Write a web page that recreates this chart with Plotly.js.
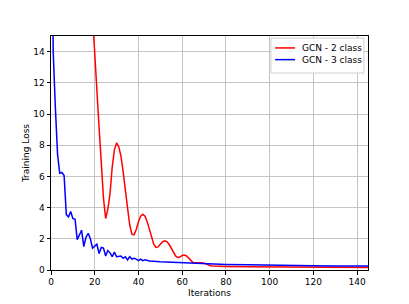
<!DOCTYPE html>
<html>
<head>
<meta charset="utf-8">
<script src="https://cdn.plot.ly/plotly-3.0.1.min.js"></script>
<style>html,body{margin:0;padding:0;background:#fff;}#chart{width:409px;height:304px;}</style>
</head>
<body>
<div id="chart"></div>
<script>
// GCN - 2 class (red)
var redX = [19,20,21,22,23,24,25,26,27,28,29,30,31,32,33,34,35,36,37,38,39,40,41,42,43,44,45,46,47,48,49,50,51,52,53,54,55,56,57,58,59,60,61,62,63,64,65,66,67,68,69,70,71,72,73,74,75,80,90,100,110,120,130,145];
var redY = [16.3,13.6,11.3,9.1,6.9,4.6,3.3,3.9,4.9,6.6,7.7,8.15,7.9,7.3,6.3,5.3,4.0,2.9,2.3,2.25,2.6,3.1,3.45,3.57,3.45,3.1,2.6,2.1,1.65,1.45,1.48,1.65,1.8,1.87,1.82,1.65,1.4,1.1,0.9,0.8,0.83,0.93,0.96,0.9,0.75,0.58,0.48,0.46,0.47,0.48,0.47,0.44,0.38,0.31,0.27,0.26,0.25,0.23,0.21,0.2,0.19,0.18,0.17,0.16];

// GCN - 3 class (blue)
var blueX = [0,1,2,3,4,5,6,7,8,9,10,11,12,13,14,15,16,17,18,19,20,21,22,23,24,25,26,27,28,29,30,31,32,33,34,35,36,37,38,39,40,41,42,43,44,45,50,55,60,65,70,75,80,90,100,110,120,130,145];
var blueY = [35,14.0,10.4,7.4,6.2,6.25,6.05,3.55,3.4,3.75,3.3,3.25,1.95,2.25,2.55,1.5,2.1,2.35,2.0,1.4,1.55,1.65,1.05,1.45,1.4,0.9,1.25,1.1,0.85,1.15,0.85,0.9,0.9,0.75,0.85,0.65,0.85,0.7,0.75,0.7,0.6,0.7,0.6,0.65,0.6,0.58,0.53,0.5,0.46,0.44,0.41,0.38,0.36,0.33,0.3,0.28,0.27,0.26,0.25];

var seriesNames = ['GCN - 2 class', 'GCN - 3 class'];
var seriesColors = ['#ff0000', '#0000ff'];

var xTicks = [0,20,40,60,80,100,120,140];
var yTicks = [0,2,4,6,8,10,12,14];

var font = {family: 'DejaVu Sans', size: 9, color: '#000'};

var traces = [
  {x: redX, y: redY, type: 'scatter', mode: 'lines', name: seriesNames[0], line: {color: seriesColors[0], width: 1.5}},
  {x: blueX, y: blueY, type: 'scatter', mode: 'lines', name: seriesNames[1], line: {color: seriesColors[1], width: 1.5}}
];

var axisCommon = {
  showline: true, mirror: true, linecolor: '#000', linewidth: 1,
  showgrid: true, gridcolor: '#c4c4c4', gridwidth: 1,
  zeroline: false, ticks: 'outside', ticklen: 3.5, tickwidth: 1, tickcolor: '#000',
  tickfont: font
};

// compact matplotlib-style legend (box + line samples + labels in paper coords)
var legRowY = [0.949, 0.899];
var shapes = [
  {type: 'rect', xref: 'paper', yref: 'paper', x0: 0.694, x1: 0.987, y0: 0.842, y1: 0.991,
   fillcolor: 'rgba(255,255,255,0.9)', line: {color: '#d0d0d0', width: 1}, layer: 'above'}
];
var annotations = [];
for (var i = 0; i < seriesNames.length; i++) {
  shapes.push({type: 'line', xref: 'paper', yref: 'paper', x0: 0.707, x1: 0.770, y0: legRowY[i], y1: legRowY[i],
               line: {color: seriesColors[i], width: 1.5}, layer: 'above'});
  annotations.push({xref: 'paper', yref: 'paper', x: 0.785, y: legRowY[i], xanchor: 'left', yanchor: 'middle',
                    text: seriesNames[i], showarrow: false, font: font});
}

var layout = {
  width: 409, height: 304,
  margin: {l: 51, r: 41, t: 36, b: 34},
  paper_bgcolor: '#fff', plot_bgcolor: '#fff',
  font: font,
  showlegend: false,
  shapes: shapes,
  annotations: annotations,
  xaxis: Object.assign({}, axisCommon, {range: [0, 145], tickvals: xTicks, ticktext: xTicks.map(String), title: {text: 'Iterations', font: font, standoff: 3}}),
  yaxis: Object.assign({}, axisCommon, {range: [0, 15], tickvals: yTicks, ticktext: yTicks.map(String), title: {text: 'Training Loss', font: font, standoff: 2}})
};

Plotly.newPlot('chart', traces, layout, {displayModeBar: false, staticPlot: true});
</script>
</body>
</html>
